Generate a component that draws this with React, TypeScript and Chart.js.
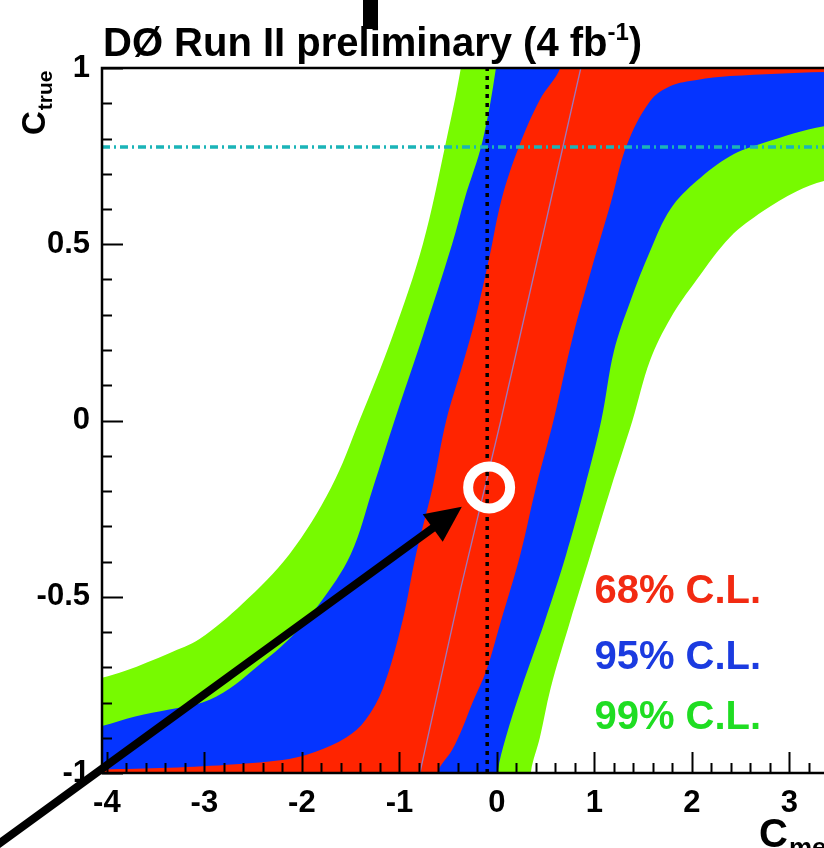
import React, { useEffect, useRef } from "react";
import { Chart, registerables } from "chart.js";

Chart.register(...registerables);

type P = [number, number];

// ---- axes ----
const X_MIN = -4.05;
const X_MAX = 3.354;
const Y_MIN = -1;
const Y_MAX = 1;
const xTickValues = [-4, -3, -2, -1, 0, 1, 2, 3];
const xTickLabels = ["-4", "-3", "-2", "-1", "0", "1", "2", "3"];
const yTickValues = [-1, -0.5, 0, 0.5, 1];
const yTickLabels = ["-1", "-0.5", "0", "0.5", "1"];
const xMinorStep = 0.2;
const yMinorStep = 0.1;

// ---- confidence belt edges (C_meas, C_true) ----
const left99: P[] = [
  [-5.0, -0.79], [-4.5, -0.76], [-4.05, -0.73], [-3.81, -0.71], [-3.36, -0.66],
  [-3.05, -0.62], [-2.61, -0.52], [-2.13, -0.38], [-1.7, -0.19], [-1.41, 0.0],
  [-1.07, 0.24], [-0.76, 0.5], [-0.53, 0.78], [-0.37, 1.0], [-0.33, 1.1],
];
const right99: P[] = [
  [0.34, -1.1], [0.35, -0.995], [0.44, -0.9], [0.55, -0.76], [0.75, -0.57],
  [0.96, -0.38], [1.17, -0.19], [1.39, 0.0], [1.57, 0.17], [1.78, 0.29],
  [2.05, 0.4], [2.39, 0.52], [2.73, 0.594], [3.07, 0.65], [3.36, 0.68], [4.5, 0.74],
];
const left95: P[] = [
  [-5.0, -0.91], [-4.5, -0.89], [-4.05, -0.867], [-3.71, -0.84], [-3.36, -0.82],
  [-3.02, -0.8], [-2.74, -0.76], [-2.51, -0.71], [-2.13, -0.62], [-1.82, -0.52],
  [-1.5, -0.38], [-1.27, -0.19], [-1.05, 0.0], [-0.76, 0.24], [-0.46, 0.5],
  [-0.33, 0.63], [-0.15, 0.79], [-0.01, 1.0], [0.02, 1.1],
];
const right95: P[] = [
  [0.0, -1.1], [0.01, -0.995], [0.09, -0.9], [0.25, -0.76], [0.49, -0.57],
  [0.71, -0.38], [0.9, -0.19], [1.07, 0.0], [1.2, 0.197], [1.37, 0.34],
  [1.57, 0.48], [1.78, 0.6], [2.05, 0.68], [2.39, 0.75], [2.73, 0.787],
  [3.36, 0.835], [4.5, 0.87],
];
const left68: P[] = [
  [-5.0, -0.995], [-4.5, -0.993], [-4.05, -0.99], [-3.36, -0.985], [-2.68, -0.975],
  [-2.13, -0.96], [-1.86, -0.94], [-1.55, -0.9], [-1.35, -0.85], [-1.17, -0.76],
  [-0.97, -0.57], [-0.83, -0.38], [-0.66, -0.19], [-0.52, 0.0], [-0.35, 0.16],
  [-0.22, 0.29], [-0.08, 0.46], [0.05, 0.63], [0.23, 0.78], [0.44, 0.91],
  [0.65, 1.0], [0.72, 1.1],
];
const right68: P[] = [
  [-0.63, -1.1], [-0.61, -1.0], [-0.46, -0.935], [-0.35, -0.87], [-0.25, -0.8],
  [-0.11, -0.71], [0.04, -0.57], [0.24, -0.38], [0.4, -0.19], [0.58, 0.0],
  [0.78, 0.24], [0.97, 0.43], [1.17, 0.62], [1.33, 0.78], [1.57, 0.906],
  [1.78, 0.949], [2.05, 0.966], [2.39, 0.977], [3.36, 0.989], [4.5, 0.993],
];

// ---- annotations ----
const diagonalLine: P[] = [[-0.79, -1], [-0.37, -0.475], [0.04, 0], [0.86, 1]];
const measuredValue = -0.1; // dotted vertical line
const trueValue = 0.776; // dash-dotted horizontal line
const bestPoint: P = [-0.08, -0.19];
const arrowFrom: P = [-5.4, -1.26];
const arrowTo: P = [-0.36, -0.245];
const legendLabels = ["68% C.L.", "95% C.L.", "99% C.L."];
const legendColors = ["#f22a12", "#1b3be0", "#1fdd22"];
const legendAnchors: P[] = [[1.0, -0.518], [1.0, -0.705], [1.0, -0.875]];
const titleMain = "DØ Run II preliminary (4 fb";
const titleSup = "-1";
const titleEnd = ")";

const RED = "#ff2400";
const BLUE = "#0534ff";
const GREEN = "#77fa00";

const FONT = '"Liberation Sans", Arial, Helvetica, sans-serif';

function polygon(left: P[], right: P[]) {
  const pts: { x: number; y: number }[] = [];
  pts.push({ x: left[0][0], y: -1.4 });
  left.forEach(([x, y]) => pts.push({ x, y }));
  pts.push({ x: left[left.length - 1][0], y: 1.4 });
  pts.push({ x: right[right.length - 1][0], y: 1.4 });
  for (let i = right.length - 1; i >= 0; i--) pts.push({ x: right[i][0], y: right[i][1] });
  pts.push({ x: right[0][0], y: -1.4 });
  return pts;
}

const toXY = (arr: P[]) => arr.map(([x, y]) => ({ x, y }));

const decorPlugin = {
  id: "rootDecor",
  afterDatasetsDraw(chart: any) {
    const { ctx, chartArea, scales } = chart;
    const xs = scales.x;
    const ys = scales.y;
    const L = chartArea.left;
    const R = chartArea.right;
    const T = chartArea.top;
    const B = chartArea.bottom;
    ctx.save();
    // frame
    ctx.strokeStyle = "#000";
    ctx.lineWidth = 2.5;
    ctx.beginPath();
    ctx.moveTo(R + 2, T);
    ctx.lineTo(L, T);
    ctx.lineTo(L, B);
    ctx.lineTo(R + 2, B);
    ctx.stroke();
    // ticks
    ctx.lineWidth = 2;
    ctx.beginPath();
    for (let i = 0; ; i++) {
      const v = -4 + i * xMinorStep;
      if (v > X_MAX + 1e-9) break;
      const major = Math.abs(v - Math.round(v)) < 1e-6;
      const px = Math.round(xs.getPixelForValue(v)) + 0.5;
      ctx.moveTo(px, B);
      ctx.lineTo(px, B - (major ? 21 : 10));
    }
    for (let i = 0; ; i++) {
      const v = Y_MIN + i * yMinorStep;
      if (v > Y_MAX + 1e-9) break;
      const major = Math.abs(v * 2 - Math.round(v * 2)) < 1e-6;
      const py = Math.round(ys.getPixelForValue(v)) + 0.5;
      ctx.moveTo(L, py);
      ctx.lineTo(L + (major ? 21 : 10), py);
    }
    ctx.stroke();

    // legend texts
    ctx.font = `bold 40px ${FONT}`;
    ctx.textBaseline = "alphabetic";
    ctx.textAlign = "left";
    legendLabels.forEach((t, i) => {
      ctx.fillStyle = legendColors[i];
      ctx.fillText(t, xs.getPixelForValue(legendAnchors[i][0]), ys.getPixelForValue(legendAnchors[i][1]));
    });

    // arrow
    const x0 = xs.getPixelForValue(arrowFrom[0]);
    const y0 = ys.getPixelForValue(arrowFrom[1]);
    const x1 = xs.getPixelForValue(arrowTo[0]);
    const y1 = ys.getPixelForValue(arrowTo[1]);
    const len = Math.hypot(x1 - x0, y1 - y0);
    const ux = (x1 - x0) / len;
    const uy = (y1 - y0) / len;
    const headLen = 36;
    const headHalf = 17;
    const bx = x1 - ux * headLen;
    const by = y1 - uy * headLen;
    ctx.strokeStyle = "#000";
    ctx.fillStyle = "#000";
    ctx.lineWidth = 8;
    ctx.lineCap = "butt";
    ctx.beginPath();
    ctx.moveTo(x0, y0);
    ctx.lineTo(bx + ux * 4, by + uy * 4);
    ctx.stroke();
    ctx.beginPath();
    ctx.moveTo(x1, y1);
    ctx.lineTo(bx - uy * headHalf, by + ux * headHalf);
    ctx.lineTo(bx + uy * headHalf, by - ux * headHalf);
    ctx.closePath();
    ctx.fill();
    ctx.restore();
  },
  afterDraw(chart: any) {
    const { ctx } = chart;
    ctx.save();
    ctx.fillStyle = "#000";
    // artifact bar at top
    ctx.fillRect(363, 0, 15, 29);
    // title
    ctx.textBaseline = "alphabetic";
    ctx.textAlign = "left";
    ctx.font = `bold 40px ${FONT}`;
    let x = 103;
    const base = 56;
    ctx.fillText(titleMain, x, base);
    x += ctx.measureText(titleMain).width;
    ctx.font = `bold 24px ${FONT}`;
    ctx.fillText(titleSup, x, base - 16);
    x += ctx.measureText(titleSup).width;
    ctx.font = `bold 40px ${FONT}`;
    ctx.fillText(titleEnd, x, base);

    // y axis title (rotated)
    ctx.save();
    ctx.translate(45, 135);
    ctx.rotate(-Math.PI / 2);
    ctx.font = `bold 33px ${FONT}`;
    ctx.fillText("C", 0, 0);
    const cw = ctx.measureText("C").width;
    ctx.font = `bold 21px ${FONT}`;
    ctx.fillText("true", cw + 1, 7);
    ctx.restore();

    // x axis title
    ctx.font = `bold 40px ${FONT}`;
    ctx.fillText("C", 759, 847);
    const cw2 = ctx.measureText("C").width;
    ctx.font = `bold 26px ${FONT}`;
    ctx.fillText("meas", 759 + cw2 + 1, 856);
    ctx.restore();
  },
};

export default function App() {
  const ref = useRef<HTMLCanvasElement>(null);
  useEffect(() => {
    const canvas = ref.current;
    if (!canvas) return;
    const lineBase = { showLine: true, pointRadius: 0, pointHoverRadius: 0, tension: 0.35 };
    const chart = new Chart(canvas, {
      type: "scatter",
      data: {
        datasets: [
          { ...lineBase, label: "99%", data: polygon(left99, right99), fill: "shape", backgroundColor: GREEN, borderColor: "transparent", borderWidth: 0, order: 10 },
          { ...lineBase, label: "95%", data: polygon(left95, right95), fill: "shape", backgroundColor: BLUE, borderColor: "transparent", borderWidth: 0, order: 9 },
          { ...lineBase, label: "68%", data: polygon(left68, right68), fill: "shape", backgroundColor: RED, borderColor: "transparent", borderWidth: 0, order: 8 },
          { ...lineBase, label: "diag", data: toXY(diagonalLine), fill: false, borderColor: "rgba(150,125,200,0.95)", borderWidth: 1.3, tension: 0, order: 7 },
          { ...lineBase, label: "meas", data: [{ x: measuredValue, y: Y_MIN }, { x: measuredValue, y: Y_MAX }], fill: false, borderColor: "#000", borderWidth: 3.5, borderDash: [4, 5], tension: 0, order: 6 },
          { ...lineBase, label: "true", data: [{ x: X_MIN, y: trueValue }, { x: X_MAX, y: trueValue }], fill: false, borderColor: "#1bb4b8", borderWidth: 3.5, borderDash: [8, 4, 2, 4], tension: 0, order: 5 },
          { label: "best", data: [{ x: bestPoint[0], y: bestPoint[1] }], showLine: false, pointRadius: 21, pointHoverRadius: 21, pointBorderWidth: 10, pointBorderColor: "#fff", pointBackgroundColor: "rgba(0,0,0,0)", borderColor: "#fff", backgroundColor: "rgba(0,0,0,0)", order: 4 },
        ],
      },
      options: {
        responsive: false,
        animation: false,
        devicePixelRatio: 1,
        events: [],
        layout: { autoPadding: false, padding: { top: 68, left: 0, right: 0, bottom: 0 } },
        elements: { line: { capBezierPoints: false } },
        plugins: { legend: { display: false }, tooltip: { enabled: false }, title: { display: false } },
        scales: {
          x: {
            type: "linear",
            min: X_MIN,
            max: X_MAX,
            grid: { display: false, drawTicks: false },
            border: { display: false },
            afterBuildTicks: (s: any) => { s.ticks = xTickValues.map((v) => ({ value: v })); },
            afterFit: (s: any) => {
              s.height = 75;
              s.paddingLeft = 0; s.paddingRight = 0; s.paddingTop = 0; s.paddingBottom = 0;
            },
            ticks: {
              padding: 12,
              maxRotation: 0,
              autoSkip: false,
              color: "#000",
              font: { family: FONT, size: 31, weight: "bold" },
              callback: (v: any) => { const i = xTickValues.indexOf(Number(v)); return i >= 0 ? xTickLabels[i] : ""; },
            },
          },
          y: {
            type: "linear",
            min: Y_MIN,
            max: Y_MAX,
            grid: { display: false, drawTicks: false },
            border: { display: false },
            afterBuildTicks: (s: any) => { s.ticks = yTickValues.map((v) => ({ value: v })); },
            afterFit: (s: any) => {
              s.width = 102;
              s.paddingLeft = 0; s.paddingRight = 0; s.paddingTop = 0; s.paddingBottom = 0;
            },
            ticks: {
              padding: 12,
              autoSkip: false,
              color: "#000",
              font: { family: FONT, size: 31, weight: "bold" },
              callback: (v: any) => { const i = yTickValues.indexOf(Number(v)); return i >= 0 ? yTickLabels[i] : ""; },
            },
          },
        },
      },
      plugins: [decorPlugin],
    } as any);
    return () => chart.destroy();
  }, []);
  return (
    <div style={{ position: "fixed", left: 0, top: 0, width: 824, height: 848, background: "#fff", overflow: "hidden" }}>
      <canvas ref={ref} width={824} height={848} style={{ display: "block", width: 824, height: 848 }} />
    </div>
  );
}
